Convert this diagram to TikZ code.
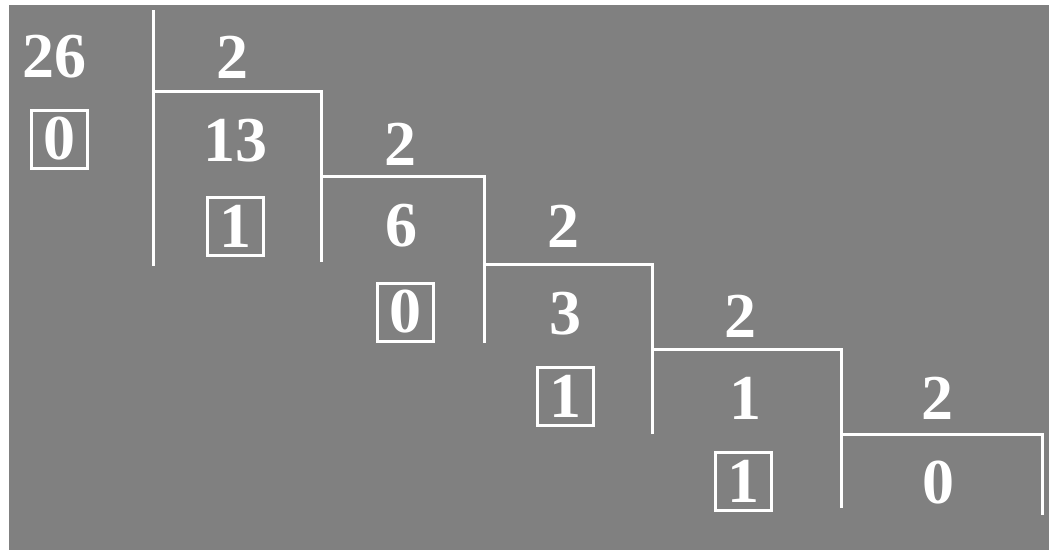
\documentclass[tikz,border=0pt]{standalone}
\usepackage{fontspec}
\setmainfont{Liberation Serif}
\begin{document}
\begin{tikzpicture}[x=1pt,y=-1pt,
  num/.style={text=white,font=\fontsize{64}{64}\selectfont\bfseries,inner sep=0pt},
  rem/.style={num,draw=white,line width=3pt,minimum width=56pt,minimum height=58pt},
  rule/.style={draw=white,line width=3pt}]
\useasboundingbox (0,0) rectangle (1049,550);
\fill[white] (0,0) rectangle (1049,550);
\fill[gray] (9,5) rectangle (1049,550);
% division lines
\draw[rule] (153,10) -- (153,266);
\draw[rule] (153,91) -- (321,91) -- (321,262);
\draw[rule] (321,176) -- (484,176) -- (484,343);
\draw[rule] (484,264) -- (652,264) -- (652,434);
\draw[rule] (652,349) -- (841,349) -- (841,508);
\draw[rule] (841,434) -- (1042,434) -- (1042,515);
% numbers
\node[num] (n26) at (55,57) {26};
\node[num] (d1) at (232,57) {2};
\node[rem] (r1) at (59,139) {0};
\node[num] (n13) at (235,141) {13};
\node[num] (d2) at (400,144) {2};
\node[rem] (r2) at (235,226) {1};
\node[num] (n6) at (401,226) {6};
\node[num] (d3) at (563,226) {2};
\node[rem] (r3) at (405,312) {0};
\node[num] (n3) at (565,314) {3};
\node[num] (d4) at (740,316) {2};
\node[rem] (r4) at (565,396) {1};
\node[num] (n1) at (745,398) {1};
\node[num] (d5) at (937,398) {2};
\node[rem] (r5) at (743,481) {1};
\node[num] (n0) at (938,483) {0};
\end{tikzpicture}
\end{document}
